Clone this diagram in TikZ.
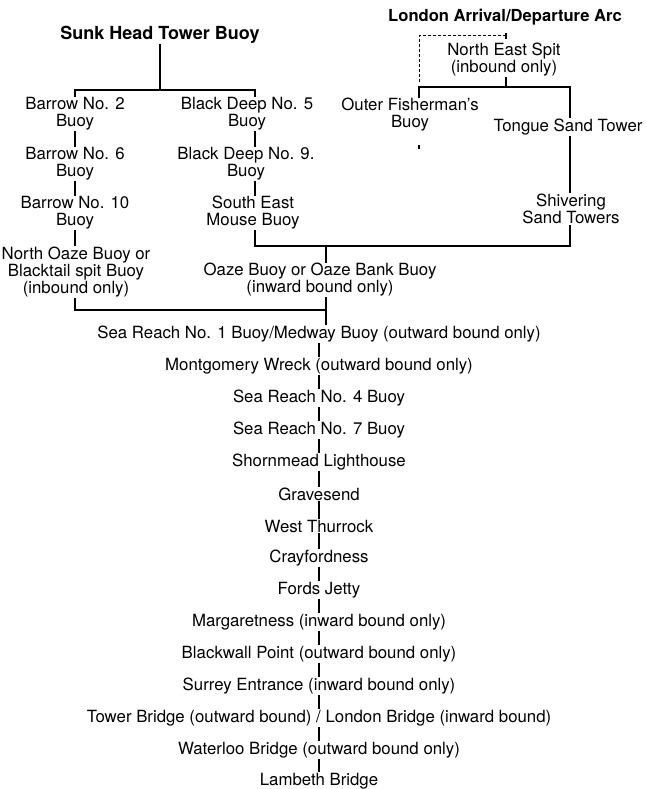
\documentclass[tikz,border=0pt]{standalone}
\usepackage{fontspec}
\setmainfont{TeX Gyre Heros}

\begin{document}
\begin{tikzpicture}[x=1pt,y=-1pt,line width=1.3pt]
  \tikzstyle{stop}=[inner sep=0pt,align=center,font=\fontsize{16.8}{17}\selectfont]
  \tikzstyle{title}=[inner sep=0pt,font=\fontsize{18}{20}\selectfont\bfseries]
  \tikzstyle{arcline}=[line width=1pt,dash pattern=on 3pt off 2pt]
  \useasboundingbox (0,0) rectangle (647,789);

  \node[title] (sunk) at (160,35) {Sunk Head Tower Buoy};
  \node[title,font=\fontsize{16.6}{18}\selectfont\bfseries] (arc) at (505,17) {London Arrival/Departure Arc};

  \node[stop] (b2) at (75,114) {Barrow No. 2\\Buoy};
  \node[stop] (b6) at (75,164) {Barrow No. 6\\Buoy};
  \node[stop] (b10) at (75,213) {Barrow No. 10\\Buoy};
  \node[stop] (noz) at (76,272) {North Oaze Buoy or\\Blacktail spit Buoy\\(inbound only)};
  \node[stop] (bd5) at (247,114) {Black Deep No. 5\\Buoy};
  \node[stop] (bd9) at (246,164) {Black Deep No. 9.\\Buoy};
  \node[stop] (sem) at (253,213) {South East\\Mouse Buoy};
  \node[stop] (oaze) at (320,280) {Oaze Buoy or Oaze Bank Buoy\\(inward bound only)};

  \node[stop] (nes) at (504,60) {North East Spit\\(inbound only)};
  \node[stop] (ofb) at (410,115) {Outer Fisherman's\\Buoy};
  \node[stop] (tst) at (568,127) {Tongue Sand Tower};
  \node[stop] (sst) at (571,209) {Shivering\\Sand Towers};

  \node[stop] (sr1) at (319,334) {Sea Reach No. 1 Buoy/Medway Buoy (outward bound only)};
  \node[stop] (mw) at (319,366) {Montgomery Wreck (outward bound only)};
  \node[stop] (sr4) at (319,398) {Sea Reach No. 4 Buoy};
  \node[stop] (sr7) at (319,430) {Sea Reach No. 7 Buoy};
  \node[stop] (shl) at (319,462) {Shornmead Lighthouse};
  \node[stop] (grv) at (319,494) {Gravesend};
  \node[stop] (wth) at (319,526) {West Thurrock};
  \node[stop] (cfd) at (319,558) {Crayfordness};
  \node[stop] (fj) at (319,590) {Fords Jetty};
  \node[stop] (mgn) at (319,622) {Margaretness (inward bound only)};
  \node[stop] (bwp) at (319,654) {Blackwall Point (outward bound only)};
  \node[stop] (sre) at (319,686) {Surrey Entrance (inward bound only)};
  \node[stop] (tlb) at (319,718) {Tower Bridge (outward bound) / London Bridge (inward bound)};
  \node[stop] (wlb) at (319,750) {Waterloo Bridge (outward bound only)};
  \node[stop] (lmb) at (319,781) {Lambeth Bridge};

  \coordinate (lane l) at (75,0);
  \coordinate (lane r) at (255,0);
  \coordinate (lane o) at (326,0);
  \coordinate (lane f) at (419,0);
  \coordinate (lane a) at (506,0);
  \coordinate (lane t) at (570,0);
  \coordinate (sunkjoin) at (160,90);
  \coordinate (oazejoin) at (326,246);
  \coordinate (seajoin) at (326,310);
  \coordinate (arcjoin) at (419,87);
  \coordinate (arcstart) at (506,36);
  \coordinate (arctick) at (506,33);

  \draw (sunk) -- (sunkjoin);
  \draw (b2.north -| lane l) |- (sunkjoin) -| (bd5.north -| lane r);
  \draw (b2) -- (b6);
  \draw (b6) -- (b10);
  \draw (b10.south -| lane l) -- (noz.north -| lane l);
  \draw (bd5.south -| lane r) -- (bd9.north -| lane r);
  \draw (bd9.south -| lane r) -- (sem.north -| lane r);
  \draw (sem.south -| lane r) |- (oazejoin) -| (sst.south -| lane t);
  \draw (oazejoin) -- (oaze.north -| lane o);
  \draw (noz.south -| lane l) |- (seajoin);
  \draw (oaze.south -| lane o) -- (sr1.north -| lane o);

  \draw[arcline] (arcstart) -| ([yshift=4pt]arcjoin);
  \draw (arctick) -- ++(0,6);
  \draw (nes.south -| lane a) -- (lane a |- arcjoin);
  \draw (ofb.north -| lane f) -- (arcjoin) -| (tst.north -| lane t);
  \draw ([yshift=-13pt]ofb.south -| lane f) -- ++(0,4);
  \draw (tst.south -| lane t) -- (sst.north -| lane t);

  \foreach \a/\b in {sr1/mw,mw/sr4,sr4/sr7,sr7/shl,shl/grv,grv/wth,wth/cfd,cfd/fj,fj/mgn,mgn/bwp,bwp/sre,sre/tlb,tlb/wlb,wlb/lmb}
    \draw (\a) -- (\b);
\end{tikzpicture}
\end{document}
